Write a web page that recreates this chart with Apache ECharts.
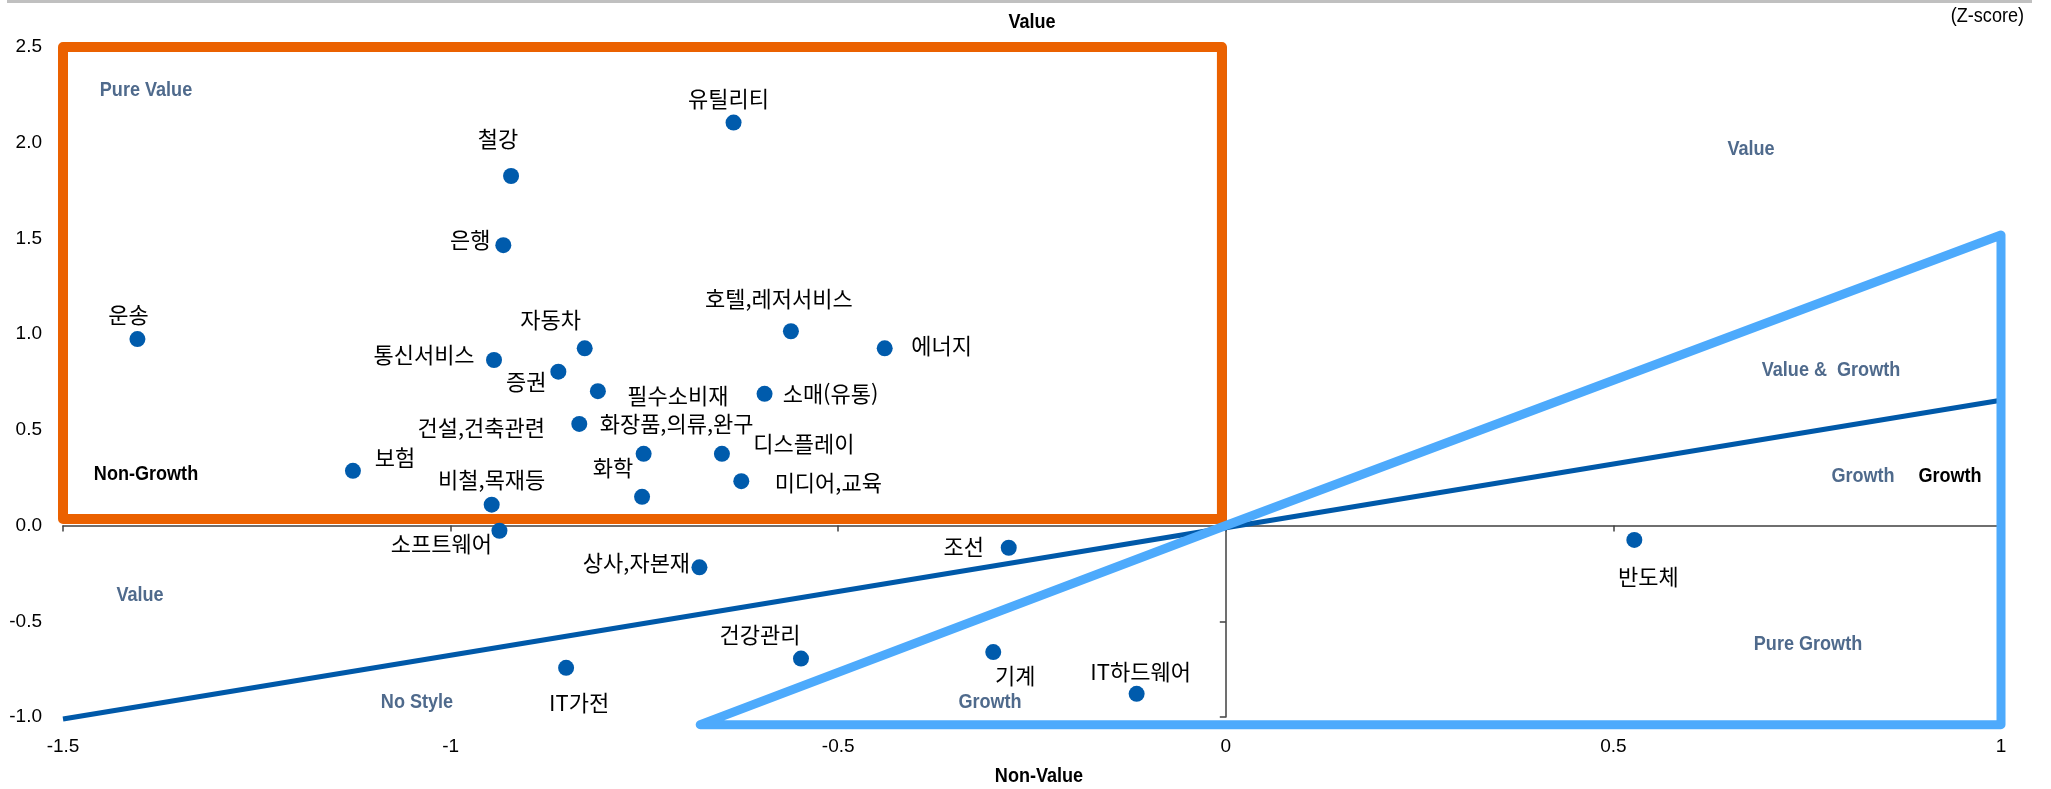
<!DOCTYPE html>
<html lang="ko">
<head>
    <meta charset="UTF-8">
    <title>Style map</title>
    <style>
        html, body { margin: 0; padding: 0; background: #fff; }
    </style>
</head>
<body>
<div id="main" style="width: 2051px;height:789px;"></div>
<script src="https://cdn.jsdelivr.net/npm/echarts@6/dist/echarts.min.js"></script>
<script>
    // 업종별 Growth(x) / Value(y) Z-score
    var sectors = ['유틸리티', '철강', '은행', '운송', '통신서비스', '자동차', '증권', '필수소비재',
        '건설,건축관련', '화장품,의류,완구', '화학', '보험', '비철,목재등', '호텔,레저서비스', '에너지',
        '소매(유통)', '디스플레이', '미디어,교육', '소프트웨어', '상사,자본재', '조선', '건강관리',
        '기계', 'IT가전', 'IT하드웨어', '반도체'];
    var growthZ = [-0.635, -0.922, -0.932, -1.404, -0.944, -0.827, -0.861, -0.810,
        -0.834, -0.751, -0.753, -1.126, -0.947, -0.561, -0.440,
        -0.595, -0.650, -0.625, -0.937, -0.679, -0.280, -0.548,
        -0.300, -0.851, -0.115, 0.527];
    var valueZ = [2.105, 1.826, 1.465, 0.974, 0.865, 0.926, 0.804, 0.702,
        0.531, 0.375, 0.150, 0.286, 0.109, 1.015, 0.926,
        0.688, 0.375, 0.232, -0.027, -0.218, -0.116, -0.695,
        -0.661, -0.743, -0.879, -0.075];

    // 구분선 / 영역
    var valueBox = [[-1.5, 2.5], [-0.005, 2.5], [-0.005, 0.034], [-1.5, 0.034], [-1.5, 2.5]];
    var styleLine = [[-1.5, -1.01], [1, 0.655]];
    var growthArea = [[-0.678, -1.04], [0, 0], [1, 1.518], [1, -1.04], [-0.678, -1.04]];

    // 라벨 위치 (점 기준 px)
    var labelOffset = {
        '유틸리티': [-5, -24], '철강': [-13, -37], '은행': [-33, -5], '운송': [-9, -24],
        '통신서비스': [-70, -5], '자동차': [-34, -29], '증권': [-32, 10], '필수소비재': [80, 4],
        '건설,건축관련': [-98, 4], '화장품,의류,완구': [33, -30], '화학': [-29, -29], '보험': [42, -13],
        '비철,목재등': [0, -25], '호텔,레저서비스': [-12, -33], '에너지': [57, -3], '소매(유통)': [66, 0],
        '디스플레이': [82, -10], '미디어,교육': [87, 1], '소프트웨어': [-58, 13], '상사,자본재': [-63, -5],
        '조선': [-45, -1], '건강관리': [-41, -24], '기계': [22, 24], 'IT가전': [13, 35],
        'IT하드웨어': [4, -22], '반도체': [14, 37]
    };

    var points = [];
    for (var i = 0; i < sectors.length; i++) {
        points.push({
            name: sectors[i],
            value: [growthZ[i], valueZ[i]],
            label: {offset: labelOffset[sectors[i]]}
        });
    }

    var narrow = "'Liberation Sans Narrow', 'Arial Narrow', 'Liberation Sans', sans-serif";
    var slate = '#4F6A8C';

    // 텍스트 주석 (Arial Narrow 느낌으로 가로 축소)
    function note(text, x, y, color, align, weight) {
        return {
            type: 'text',
            x: x, y: y,
            scaleX: 0.86,
            z: 50,
            style: {
                text: text,
                fill: color,
                font: (weight || 'bold') + ' 21px ' + narrow,
                textAlign: align || 'center',
                textVerticalAlign: 'middle'
            }
        };
    }

    var myChart = echarts.init(document.getElementById('main'));
    var option = {
        backgroundColor: '#fff',
        animation: false,
        grid: {left: 63, right: 50, top: 47, bottom: 72},
        xAxis: [
            {
                type: 'value', min: -1.5, max: 1, interval: 0.5,
                position: 'bottom',
                axisLine: {show: false, onZero: false},
                axisTick: {show: false},
                splitLine: {show: false},
                axisLabel: {color: '#000', fontSize: 19, fontFamily: narrow, margin: 20}
            },
            {
                type: 'value', min: -1.5, max: 1, interval: 0.5,
                position: 'top',
                axisLine: {show: true, onZero: true, onZeroAxisIndex: 0, lineStyle: {color: '#404040', width: 1.5}},
                axisTick: {show: true, inside: true, length: 6, lineStyle: {color: '#404040', width: 1.5}},
                splitLine: {show: false},
                axisLabel: {show: false}
            }
        ],
        yAxis: [
            {
                type: 'value', min: -1, max: 2.5, interval: 0.5,
                position: 'left',
                axisLine: {show: false, onZero: false},
                axisTick: {show: false},
                splitLine: {show: false},
                axisLabel: {
                    color: '#000', fontSize: 19, fontFamily: narrow, margin: 21,
                    formatter: function (v) { return v.toFixed(1); }
                }
            },
            {
                type: 'value', min: -1, max: 2.5, interval: 0.5,
                position: 'right',
                axisLine: {show: true, onZero: true, onZeroAxisIndex: 0, lineStyle: {color: '#404040', width: 1.5}},
                axisTick: {show: true, inside: true, length: 6, lineStyle: {color: '#404040', width: 1.5}},
                splitLine: {show: false},
                axisLabel: {show: false}
            }
        ],
        graphic: [
            {type: 'rect', x: 7, y: 0, z: 50, shape: {width: 2025, height: 3}, style: {fill: '#c0c0c0'}},
            note('Value', 1032, 22, '#000'),
            note('(Z-score)', 2024, 16, '#000', 'right', 'normal'),
            note('Non-Value', 1039, 776, '#000'),
            note('Non-Growth', 146, 474, '#000'),
            note('Growth', 1950, 476, '#000'),
            note('Pure Value', 146, 90, slate),
            note('Value', 1751, 149, slate),
            note('Value &  Growth', 1831, 370, slate),
            note('Growth', 1863, 476, slate),
            note('Value', 140, 595, slate),
            note('No Style', 417, 702, slate),
            note('Growth', 990, 702, slate),
            note('Pure Growth', 1808, 644, slate)
        ],
        series: [
            {
                type: 'line',
                data: valueBox,
                symbol: 'none',
                clip: false,
                silent: true,
                z: 3,
                lineStyle: {color: '#EB6100', width: 10, join: 'round', cap: 'round'}
            },
            {
                type: 'line',
                data: styleLine,
                symbol: 'none',
                clip: false,
                silent: true,
                z: 4,
                lineStyle: {color: '#0059A9', width: 5}
            },
            {
                type: 'line',
                data: growthArea,
                symbol: 'none',
                clip: false,
                silent: true,
                z: 5,
                lineStyle: {color: '#4DAAFC', width: 9, join: 'round', cap: 'round'}
            },
            {
                type: 'scatter',
                data: points,
                symbolSize: 16,
                z: 6,
                itemStyle: {color: '#005BAC', opacity: 1},
                label: {
                    show: true,
                    position: 'inside',
                    formatter: '{b}',
                    color: '#000',
                    fontSize: 22,
                    fontFamily: "'Noto Sans CJK KR', sans-serif"
                }
            }
        ]
    };
    myChart.setOption(option);
</script>
</body>
</html>
